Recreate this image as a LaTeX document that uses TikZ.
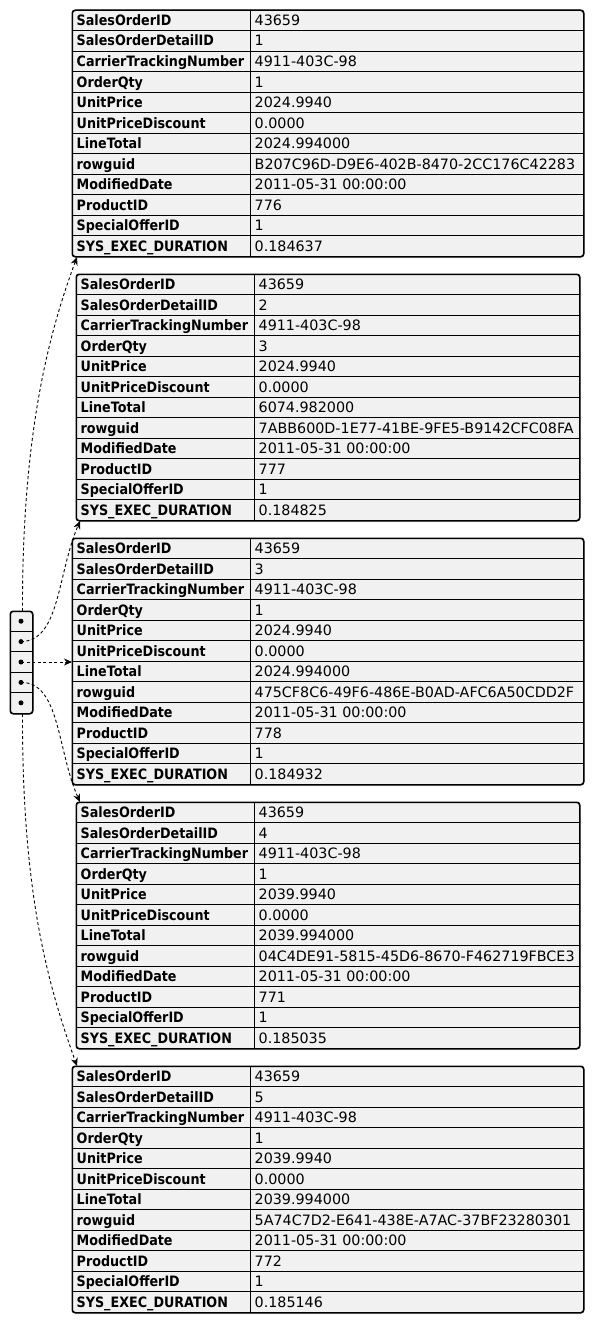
\documentclass[tikz,border=0pt]{standalone}
\usepackage{fontspec}
\setmainfont{DejaVu Sans}
\newfontfamily\keyfont{DejaVu Sans Bold}[FakeStretch=0.89]
\usetikzlibrary{arrows.meta}
\definecolor{tfill}{HTML}{F1F1F1}
\tikzset{
  tbox/.style={draw=black, line width=1pt, fill=tfill, rounded corners=3pt, inner sep=0pt, anchor=north west},
  keyt/.style={anchor=base west, inner sep=0pt, font=\fontsize{14.3}{15}\keyfont},
  valt/.style={anchor=base west, inner sep=0pt, font=\fontsize{14.3}{15}\selectfont},
  gridline/.style={line width=0.8pt, black},
  link/.style={dash pattern=on 3pt off 2.5pt, line width=0.9pt, -{Stealth[length=8pt,width=7pt,inset=2.5pt]}},
  dotmark/.style={circle, fill=black, inner sep=0pt, minimum size=5pt},
}
\newcommand\jkeys{SalesOrderID,SalesOrderDetailID,CarrierTrackingNumber,OrderQty,UnitPrice,UnitPriceDiscount,LineTotal,rowguid,ModifiedDate,ProductID,SpecialOfferID,SYS\_EXEC\_DURATION}
% #1 name, #2 x0, #3 y0, #4 xdiv, #5 x1, #6 values
\newcommand\jtab[6]{%
  \node[tbox, minimum width={#5-#2}, minimum height=246] (#1) at (#2,#3) {};
  \foreach \k in {1,...,11} \draw[gridline] (#2,{#3+\k*20.5}) -- (#5,{#3+\k*20.5});
  \draw[gridline] (#4,#3) -- (#4,{#3+246});
  \draw[line width=1pt, rounded corners=3pt] (#1.north west) rectangle (#1.south east);
  \foreach \t [count=\k] in \jkeys \node[keyt] (#1k\k) at ({#2+4.5},{#3+(\k-1)*20.5+15.5}) {\t};
  \foreach \t [count=\k] in {#6} \node[valt] (#1v\k) at ({#4+4.5},{#3+(\k-1)*20.5+15.5}) {\t};
}
\begin{document}
\begin{tikzpicture}[x=1pt,y=-1pt]
\useasboundingbox[fill=white] (0,0) rectangle (595,1322);

\jtab{t1}{72}{10}{250}{583}{43659,1,4911-403C-98,1,2024.9940,0.0000,2024.994000,B207C96D-D9E6-402B-8470-2CC176C42283,2011-05-31 00:00:00,776,1,0.184637}
\jtab{t2}{76}{274}{254}{579}{43659,2,4911-403C-98,3,2024.9940,0.0000,6074.982000,7ABB600D-1E77-41BE-9FE5-B9142CFC08FA,2011-05-31 00:00:00,777,1,0.184825}
\jtab{t3}{72}{538}{250}{583}{43659,3,4911-403C-98,1,2024.9940,0.0000,2024.994000,475CF8C6-49F6-486E-B0AD-AFC6A50CDD2F,2011-05-31 00:00:00,778,1,0.184932}
\jtab{t4}{76}{802}{254}{579}{43659,4,4911-403C-98,1,2039.9940,0.0000,2039.994000,04C4DE91-5815-45D6-8670-F462719FBCE3,2011-05-31 00:00:00,771,1,0.185035}
\jtab{t5}{72}{1066}{250}{583}{43659,5,4911-403C-98,1,2039.9940,0.0000,2039.994000,5A74C7D2-E641-438E-A7AC-37BF23280301,2011-05-31 00:00:00,772,1,0.185146}

% array node
\node[tbox, minimum width=22, minimum height=102] (arr) at (10,611) {};
\foreach \k in {1,...,4} \draw[gridline] (10,{611+\k*20.4}) -- (32,{611+\k*20.4});
\draw[line width=1pt, rounded corners=3pt] (arr.north west) rectangle (arr.south east);
\foreach \k in {1,...,5} \coordinate (a\k) at (21,{611+(\k-0.5)*20.4});

% targets
\coordinate (in1) at ([xshift=5pt]t1.south west);
\coordinate (in2) at ([xshift=4pt]t2.south west);
\coordinate (in4) at ([xshift=4pt]t4.north west);
\coordinate (in5) at ([xshift=5pt]t5.north west);
\coordinate (top1) at ([xshift=1pt]arr.north);
\coordinate (bot5) at ([xshift=1pt]arr.south);

\draw[link] (top1) .. controls (22,430) and (50,330) .. (in1);
\draw[link] (a2) .. controls (60,641) and (57,575) .. (in2);
\draw[link] (a3) -- (t3.west |- a3);
\draw[link] (a4) .. controls (60,682) and (57,750) .. (in4);
\draw[link] (bot5) .. controls (22,900) and (50,990) .. (in5);

\foreach \k in {1,...,5} \node[dotmark] (d\k) at (a\k) {};
\end{tikzpicture}
\end{document}
